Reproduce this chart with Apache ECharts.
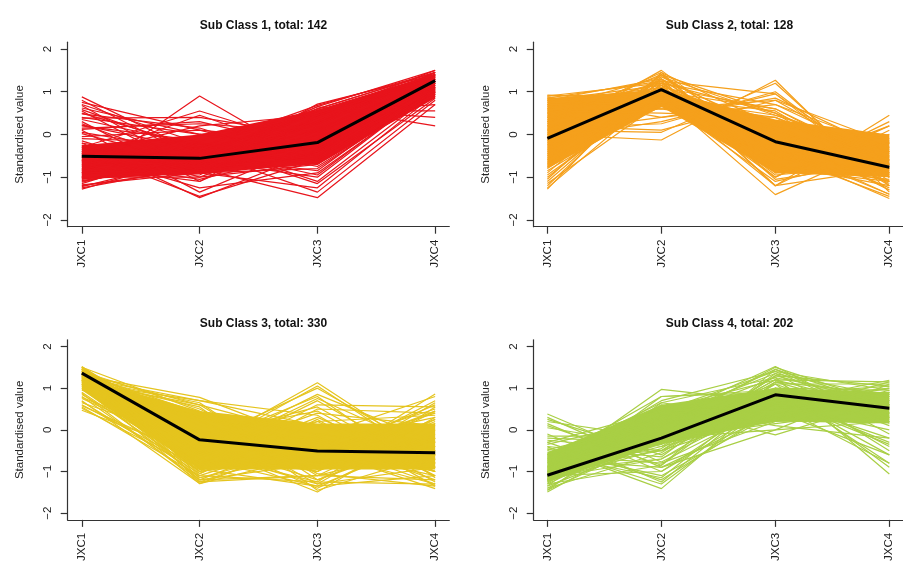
<!DOCTYPE html>
<html>
<head>
<meta charset="utf-8">
<script src="https://cdn.jsdelivr.net/npm/echarts@6/dist/echarts.min.js"></script>
<style>
  html, body { margin: 0; padding: 0; background: #ffffff; }
  #chart { width: 903px; height: 564px; }
</style>
</head>
<body>
<div id="chart"></div>
<script>
// Sample stages along the x axis
const stages = ['JXC1', 'JXC2', 'JXC3', 'JXC4'];
const yTicks = [-2, -1, 0, 1, 2];

// Sub class titles
const titles = [
  'Sub Class 1, total: 142',
  'Sub Class 2, total: 128',
  'Sub Class 3, total: 330',
  'Sub Class 4, total: 202'
];

// Cluster colours
const colors = ['#E8141C', '#F5A01C', '#E5C41E', '#A9CF45'];

// Cluster centroid (mean profile) per sub class
const mean1 = [-0.51, -0.56, -0.19, 1.26];
const mean2 = [-0.09, 1.05, -0.17, -0.77];
const mean3 = [1.36, -0.24, -0.51, -0.55];
const mean4 = [-1.09, -0.20, 0.84, 0.52];

// Densely overlapping bundle of member profiles (lower / upper bound per stage)
const coreLow1 = [-1.05, -0.92, -0.70, 0.85];
const coreHigh1 = [-0.25, 0.00, 0.58, 1.42];
const coreLow2 = [-0.80, 0.65, -0.90, -1.00];
const coreHigh2 = [0.85, 1.05, 0.35, 0.00];
const coreLow3 = [0.95, -0.95, -0.95, -0.95];
const coreHigh3 = [1.25, 0.45, 0.15, 0.15];
const coreLow4 = [-1.25, -0.35, 0.20, 0.15];
const coreHigh4 = [-0.55, 0.60, 1.00, 0.90];

// Individual member profiles (standardised values at JXC1..JXC4)
const profiles1 = [
  [0.88, -0.45, -0.30, 1.20], [0.80, -0.60, 0.10, 1.30], [0.70, -0.20, -0.50, 1.05],
  [0.62, 0.00, 0.25, 1.35], [0.55, -0.90, -0.20, 1.25], [0.48, 0.15, -0.70, 0.95],
  [0.38, 0.40, -0.05, 1.00], [0.30, -1.10, 0.40, 1.40], [0.22, -0.35, -0.95, 1.10],
  [0.15, 0.25, 0.05, 1.15], [0.10, -1.35, -0.20, 1.00], [0.02, -0.70, 0.30, 1.45],
  [-0.05, 0.10, -0.60, 0.90], [-0.15, -1.00, 0.00, 1.35], [-0.20, -1.48, -0.40, 1.10],
  [-0.30, 0.55, -0.30, 1.00], [-0.35, -0.55, 0.65, 1.50], [-0.40, -1.45, -0.60, 1.20],
  [-0.40, -0.50, 0.65, 0.20], [-0.50, -0.60, 0.60, 1.45], [-0.55, 0.45, -0.50, 1.30],
  [-0.60, -0.80, -1.48, 0.70], [-0.60, -0.30, 0.60, 0.40], [-0.65, -0.90, -0.80, 1.00],
  [-0.70, -0.20, -1.10, 1.00], [-0.75, -1.10, 0.10, 1.40], [-0.80, -0.40, 0.50, 0.70],
  [-0.85, 0.00, -0.30, 1.20], [-0.90, -0.40, -1.35, 0.80], [-0.90, -0.80, 0.71, 1.40],
  [-0.95, -0.50, -0.85, 1.15], [-1.00, 0.90, -0.70, 0.90], [-1.00, -1.00, -0.70, 1.20],
  [-1.05, -0.70, 0.40, 1.30], [-1.10, -0.60, -1.00, 1.10], [-1.15, -0.30, 0.20, 1.45],
  [-1.20, -0.80, -0.50, 1.40], [-1.28, -0.50, -0.30, 1.30], [-0.20, -0.70, 0.55, 0.55],
  [-0.30, -0.90, -1.25, 0.95], [0.35, -0.25, -1.15, 0.85], [0.20, -0.15, 0.50, 1.25],
  [-1.25, -0.75, -0.40, 1.35], [-1.22, -0.55, -0.10, 1.25], [-1.18, -0.90, 0.30, 1.45],
  [-1.12, -0.45, -0.60, 1.15], [-1.08, -0.65, 0.55, 1.40], [-1.02, -0.85, -0.20, 1.30],
  [-0.88, -0.95, 0.45, 1.50], [-0.82, -0.25, -0.65, 1.10], [-0.72, -0.65, 0.25, 1.35],
  [-0.62, -1.05, -0.40, 1.25], [-0.45, 0.20, 0.45, 1.40], [-0.25, -0.85, 0.60, 1.45],
  [0.05, -0.40, 0.55, 1.30], [0.25, -0.75, 0.15, 1.20], [0.40, 0.00, -0.40, 1.10],
  [0.58, -0.40, 0.45, 1.35], [0.68, -0.85, -0.55, 1.00], [0.75, 0.10, -0.15, 1.25],
  [0.50, -0.30, 0.68, 1.45], [0.12, 0.30, -0.35, 1.05], [-0.10, -0.20, -0.75, 0.95],
  [-0.45, -1.25, -0.90, 1.05]
];
const profiles2 = [
  [-1.28, 1.45, 0.20, -0.90], [-1.20, 1.30, -0.40, -0.60], [-1.10, 1.20, 0.50, -1.20],
  [-1.00, 1.10, -0.90, -0.30], [-0.90, 1.35, 0.00, -1.00], [-0.80, 0.90, -0.60, -0.50],
  [-0.70, 1.25, -1.20, -0.80], [-0.60, 1.40, -0.30, -1.40], [-0.50, 1.00, 0.60, -0.70],
  [-0.40, 1.15, -1.00, 0.20], [-0.30, 0.80, -0.50, -1.10], [-0.20, 1.05, 0.30, -0.40],
  [0.00, 1.50, -0.50, -0.90], [0.00, -0.13, 1.27, -1.35], [0.10, 0.05, 1.20, -1.20],
  [0.15, 0.25, 1.00, -1.00], [-0.10, 0.30, 0.95, -0.90], [0.20, 0.10, 0.80, -0.70],
  [0.05, 0.40, 0.70, -0.30], [0.92, 0.85, 0.30, -0.70], [0.90, 1.20, -0.80, -1.10],
  [0.85, 0.60, 0.80, -0.20], [0.88, 0.40, 0.85, -0.40], [0.80, 1.30, -1.20, 0.45],
  [0.70, 0.90, -1.00, 0.30], [0.60, 1.10, -0.80, 0.20], [0.40, 0.90, -1.41, -0.20],
  [0.50, 1.20, -0.35, -1.50], [0.30, 0.95, -0.20, -1.40], [0.65, 1.00, 0.00, -1.30],
  [0.45, 0.70, -0.60, 0.00], [0.30, 1.40, 0.50, -0.60], [-0.55, 0.65, 0.20, -0.10],
  [0.75, 1.10, 0.60, -0.80], [-0.85, 0.75, -0.70, -1.20], [0.20, 0.80, -1.10, -0.50],
  [-0.25, 1.30, 0.10, -0.95], [0.55, 0.50, 0.40, -0.60],
  [-1.25, 1.00, -0.20, -1.10], [-1.15, 0.75, 0.40, -0.80], [-1.05, 1.40, -0.70, -0.40],
  [-0.95, 0.95, 0.10, -1.30], [-0.75, 1.15, -0.95, -0.70], [-0.65, 0.85, 0.55, -1.00],
  [-0.45, 1.30, -0.50, -0.20], [-0.35, 0.70, -0.10, -1.25], [-0.15, 1.20, 0.70, -0.55],
  [0.25, 1.45, -0.90, -0.85], [0.35, 0.60, 0.20, -1.15], [0.50, 0.95, -1.20, 0.10],
  [0.60, 1.35, 0.45, -0.35], [0.70, 0.75, -0.45, -1.45], [0.80, 1.15, 0.10, -0.95],
  [0.90, 0.95, -0.60, -0.15], [0.85, 1.25, -1.05, -0.65], [0.10, 1.10, -0.75, -1.05],
  [-0.05, 0.85, 0.45, -0.45], [0.40, 1.25, 0.95, -1.10]
];
const profiles3 = [
  [0.47, -0.60, -0.40, -0.50], [0.55, -1.10, -0.20, -0.80], [0.60, -0.90, 0.10, -1.00],
  [0.70, -1.29, -0.60, -0.30], [0.75, -0.50, -1.00, 0.20], [0.80, -1.20, -0.80, -0.60],
  [0.85, -0.80, 0.30, -0.90], [0.90, -1.00, -0.50, 0.40], [0.65, -0.30, -1.20, -0.20],
  [1.52, -0.30, -0.70, -0.80], [1.45, 0.10, -0.50, -1.10], [1.40, 0.50, -0.90, -0.40],
  [1.30, 0.78, -0.30, -0.70], [1.25, 0.70, 0.10, -0.30], [1.15, 0.60, -1.10, -1.20],
  [1.30, -0.45, 1.13, -0.72], [1.40, -0.50, 1.05, -0.80], [1.20, -0.30, 1.00, -0.60],
  [1.35, -0.60, 0.75, -0.50], [1.10, -0.70, 0.70, -0.90], [1.45, -0.20, 0.55, -1.00],
  [1.25, -0.80, -0.88, 0.86], [1.30, 0.20, -0.75, 0.70], [1.40, -0.60, -1.00, 0.65],
  [1.20, -1.00, -0.60, 0.60], [1.35, 0.40, -0.40, 0.50], [1.10, -1.29, -0.25, -0.60],
  [1.20, -1.20, -0.10, -0.40], [1.00, -1.15, -0.40, -1.00], [1.30, -0.36, -1.49, 0.16],
  [1.40, -0.20, -1.40, 0.00], [1.50, -0.50, -1.30, 0.30], [1.45, -0.90, -0.48, -1.41],
  [1.30, 0.30, -0.30, -1.30], [1.50, -0.10, -0.20, -1.20], [1.35, -0.40, 0.20, -1.10],
  [1.40, 0.00, -0.80, -0.20], [1.25, -0.60, 0.40, 0.10], [1.15, 0.30, -0.60, -0.90],
  [1.05, -0.85, -0.30, 0.30], [1.45, -0.70, -0.95, -0.70], [0.95, 0.35, -0.10, -0.50],
  [1.48, -1.25, -0.30, -1.00], [1.42, -1.05, 0.25, -1.35], [1.38, -1.15, -0.60, 0.45],
  [1.33, -0.95, -1.35, -0.20], [1.28, -1.20, -1.10, 0.25], [1.22, 0.65, -1.20, -0.10],
  [1.18, 0.55, -1.45, -0.60], [1.12, 0.70, 0.35, -1.25], [1.50, 0.45, -1.05, -1.35],
  [1.36, -0.10, 0.45, -1.10], [1.44, -0.35, 0.80, -1.15], [1.26, -0.80, 0.60, 0.55],
  [1.32, -0.55, -1.25, 0.55], [1.40, 0.25, -1.30, -0.90], [1.20, -0.40, -0.15, 0.80],
  [1.46, -1.00, 0.50, 0.40], [0.58, -0.70, -1.35, -1.10], [0.68, -1.05, 0.20, 0.35],
  [0.78, -0.35, -0.55, -1.30], [0.88, -1.25, -1.10, -0.40], [0.52, -0.95, -0.80, 0.25],
  [1.16, -0.10, -1.00, 0.45], [1.34, 0.60, -0.15, -1.00], [1.08, -0.55, 0.85, -0.30],
  [1.50, -1.10, -1.25, -1.30]
];
const profiles4 = [
  [0.38, -0.77, 0.60, 0.40], [0.30, -0.90, 0.40, 0.90], [0.25, -0.60, 1.00, 0.20],
  [0.15, -1.00, 0.80, -0.30], [0.05, -0.40, 0.30, 0.70], [-0.15, -0.15, 0.90, 0.60],
  [-0.20, -0.30, 1.20, -0.50], [-0.30, -1.20, 0.50, 0.80], [-0.35, 0.30, 0.70, 1.00],
  [-0.41, -1.41, 0.89, 0.30], [-0.45, -1.30, 0.70, -0.20], [-0.50, -1.10, 0.40, 0.50],
  [-0.55, 0.10, 1.10, 0.10], [-0.60, -0.80, 0.20, 0.90], [-0.65, 0.50, 0.60, -0.80],
  [-0.70, -0.50, 1.30, 0.60], [-0.75, 0.80, 0.90, 0.30], [-0.80, 0.55, -0.12, 0.71],
  [-0.85, -0.20, 0.00, 1.10], [-0.90, 0.70, 1.40, 0.20], [-0.95, 0.97, 0.67, 0.90],
  [-1.00, 0.20, 1.26, -1.06], [-1.05, -0.40, 1.10, -0.90], [-1.10, 0.40, 1.00, -0.80],
  [-1.15, -0.70, 0.90, -0.60], [-1.20, 0.27, 1.52, 0.16], [-1.25, -0.10, 0.66, 1.19],
  [-1.30, 0.00, 0.50, 1.00], [-1.35, -0.30, 1.20, 0.50], [-1.40, 0.10, 0.80, 0.40],
  [-1.49, 0.00, 0.95, 0.70], [-1.45, -0.20, 0.20, 0.30], [-1.20, 0.60, 0.10, -0.20],
  [-0.70, -0.90, 0.00, 0.20], [-1.00, -0.50, 0.40, 1.15], [-0.60, 0.30, 1.35, 0.80],
  [-0.25, -0.50, 1.00, -0.40], [-1.10, -1.00, 0.60, 0.00],
  [-1.45, 0.45, 1.40, 0.95], [-1.40, -0.55, 1.10, 1.10], [-1.35, 0.65, 0.30, 0.85],
  [-1.30, -0.85, 1.45, 0.55], [-1.28, 0.35, 0.75, -0.35], [-1.22, -0.45, 1.30, 1.05],
  [-1.18, 0.80, 0.95, 0.65], [-1.12, 0.15, 1.45, 0.25], [-1.08, -0.25, 0.25, 0.95],
  [-1.02, 0.50, 1.20, 1.15], [-0.98, -0.70, 0.70, 0.80], [-0.92, 0.05, 1.50, 0.60],
  [-0.88, 0.35, 0.45, -0.60], [-0.78, -0.35, 1.15, 0.40], [-0.68, 0.65, 1.25, 0.75],
  [-0.58, -1.15, 1.00, 0.95], [-0.48, 0.20, 0.85, 1.05], [-0.40, -0.65, 1.35, -0.10],
  [-0.30, 0.45, 0.55, 0.35], [-0.10, -1.25, 0.95, 0.60], [0.10, -0.85, 1.15, 0.85],
  [0.20, -0.20, 0.15, 0.50]
];

const panels = [
  { title: titles[0], color: colors[0], mean: mean1, low: coreLow1, high: coreHigh1, profiles: profiles1 },
  { title: titles[1], color: colors[1], mean: mean2, low: coreLow2, high: coreHigh2, profiles: profiles2 },
  { title: titles[2], color: colors[2], mean: mean3, low: coreLow3, high: coreHigh3, profiles: profiles3 },
  { title: titles[3], color: colors[3], mean: mean4, low: coreLow4, high: coreHigh4, profiles: profiles4 }
];

// Panel placement (2 x 2 layout)
const layout = [
  { left: 67.7, top: 42.2 },
  { left: 533.7, top: 42.2 },
  { left: 67.7, top: 339.8 },
  { left: 533.7, top: 339.8 }
];
const plotW = 381.6, plotH = 184.5;

const FONT = '"Liberation Sans", Arial, Helvetica, sans-serif';
const INK = '#222222';
const AXIS = '#333333';

const toPoints = vals => vals.map((v, i) => [i + 1, v]);
const minusFmt = v => (v < 0 ? '\u2212' + Math.abs(v) : String(v));

const grid = [], xAxis = [], yAxis = [], title = [], series = [];

panels.forEach((p, k) => {
  const L = layout[k];
  grid.push({ left: L.left, top: L.top, width: plotW, height: plotH, containLabel: false });

  title.push({
    text: p.title,
    left: L.left + plotW / 2,
    top: L.top - 27.5,
    textAlign: 'center',
    textStyle: { fontFamily: FONT, fontSize: 12, fontWeight: 'bold', color: '#111' }
  });

  xAxis.push({
    gridIndex: k, type: 'value', min: 0.88, max: 4.12,
    axisLine: { show: true, onZero: false, lineStyle: { color: AXIS, width: 1.2 } },
    axisTick: { show: true, customValues: [1, 2, 3, 4], length: 7, lineStyle: { color: AXIS, width: 1.2 } },
    axisLabel: {
      customValues: [1, 2, 3, 4], formatter: v => stages[Math.round(v) - 1],
      rotate: 90, margin: 13, fontFamily: FONT, fontSize: 11.5, color: INK
    },
    splitLine: { show: false }
  });

  yAxis.push({
    gridIndex: k, type: 'value', min: -2.16, max: 2.16,
    name: 'Standardised value', nameLocation: 'middle', nameGap: 42,
    nameTextStyle: { fontFamily: FONT, fontSize: 11.5, color: INK },
    axisLine: { show: true, onZero: false, lineStyle: { color: AXIS, width: 1.2 } },
    axisTick: { show: true, customValues: yTicks, length: 7, lineStyle: { color: AXIS, width: 1.2 } },
    axisLabel: {
      customValues: yTicks, formatter: minusFmt, rotate: 90, margin: 14,
      fontFamily: FONT, fontSize: 11.5, color: INK
    },
    splitLine: { show: false }
  });

  // dense bundle drawn as a filled band between its lower and upper bounds
  series.push({
    type: 'custom', xAxisIndex: k, yAxisIndex: k, silent: true, z: 1,
    data: [[1, p.low[0]], [4, p.high[3]]],
    renderItem: (params, api) => {
      if (params.dataIndex !== 0) return null;
      const upper = p.high.map((v, i) => api.coord([i + 1, v]));
      const lower = p.low.map((v, i) => api.coord([i + 1, v])).reverse();
      return {
        type: 'polygon',
        shape: { points: upper.concat(lower) },
        style: { fill: p.color }
      };
    }
  });

  p.profiles.forEach(pr => {
    series.push({
      type: 'line', xAxisIndex: k, yAxisIndex: k, data: toPoints(pr),
      symbol: 'none', silent: true, z: 2,
      lineStyle: { color: p.color, width: 1.2 }
    });
  });

  series.push({
    type: 'line', xAxisIndex: k, yAxisIndex: k, data: toPoints(p.mean),
    symbol: 'none', silent: true, z: 5,
    lineStyle: { color: '#000000', width: 3 }
  });
});

const chart = echarts.init(document.getElementById('chart'), null, { renderer: 'canvas' });
chart.setOption({
  backgroundColor: '#ffffff',
  animation: false,
  title, grid, xAxis, yAxis, series
});
</script>
</body>
</html>
